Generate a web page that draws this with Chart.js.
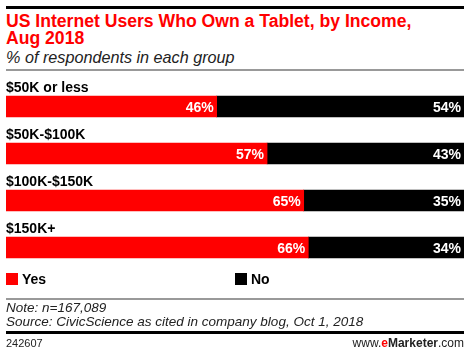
<!DOCTYPE html>
<html>
<head>
<meta charset="utf-8">
<script src="https://cdn.jsdelivr.net/npm/chart.js@4"></script>
<style>
  body { margin: 0; width: 470px; height: 354px; background: #fff; position: relative; font-family: "Liberation Sans", Arial, sans-serif; overflow: hidden; }
  .abs { position: absolute; }
  .rule { position: absolute; left: 6px; width: 458px; }
  #title { left: 6px; top: 13px; color: #f00; font-weight: bold; font-size: 17.6px; line-height: 16.5px; }
  #sub { left: 6px; top: 48px; font-style: italic; font-size: 16.2px; color: #222; }
  .sw { position: absolute; width: 12px; height: 12px; top: 273px; }
  .lg { position: absolute; top: 271px; font-weight: bold; font-size: 14px; }
  #note { left: 6px; top: 301px; font-style: italic; font-size: 13.5px; line-height: 13.5px; color: #222; }
  #foot1 { left: 6px; top: 337px; font-size: 11px; color: #222; }
  #foot2 { right: 6px; top: 336px; font-size: 12px; color: #222; }
  #wrap { position: absolute; left: 6px; top: 75px; width: 458px; height: 200px; }
</style>
</head>
<body>
<div class="rule" style="top:6px;height:3px;background:#000"></div>
<div id="title" class="abs">US Internet Users Who Own a Tablet, by Income,<br>Aug 2018</div>
<div id="sub" class="abs">% of respondents in each group</div>
<div class="rule" style="top:69px;height:2px;background:#999"></div>

<div id="wrap"><canvas id="c"></canvas></div>

<div class="sw" style="left:6px;background:#f00"></div>
<div class="lg" style="left:22px">Yes</div>
<div class="sw" style="left:235px;background:#000"></div>
<div class="lg" style="left:251px">No</div>

<div class="rule" style="top:298px;height:2px;background:#999"></div>
<div id="note" class="abs">Note: n=167,089<br>Source: CivicScience as cited in company blog, Oct 1, 2018</div>
<div class="rule" style="top:331px;height:3px;background:#000"></div>
<div id="foot1" class="abs">242607</div>
<div id="foot2" class="abs">www.<b style="color:#f00">e</b><b>Marketer</b>.com</div>

<script>
// data
const groups = ['$50K or less', '$50K-$100K', '$100K-$150K', '$150K+'];
const yesVals = [46, 57, 65, 66];
const noVals = [54, 43, 35, 34];

// category labels above bars + values inside bar ends
const labelPlugin = {
    id: 'labels',
    afterDatasetsDraw(chart) {
        const ctx = chart.ctx;
        ctx.save();
        ctx.font = 'bold 14px "Liberation Sans", Arial, sans-serif';
        ctx.textBaseline = 'alphabetic';
        const yesMeta = chart.getDatasetMeta(0);
        yesMeta.data.forEach((bar, i) => {
            ctx.fillStyle = '#000';
            ctx.textAlign = 'left';
            ctx.fillText(groups[i], chart.chartArea.left, bar.y - bar.height / 2 - 4);
        });
        ctx.fillStyle = '#fff';
        ctx.textAlign = 'right';
        chart.data.datasets.forEach((ds, d) => {
            chart.getDatasetMeta(d).data.forEach((bar, i) => {
                ctx.fillText(ds.data[i] + '%', bar.x - 3, bar.y + 5);
            });
        });
        ctx.restore();
    }
};

new Chart(document.getElementById('c'), {
    type: 'bar',
    data: {
        labels: groups,
        datasets: [
            { label: 'Yes', data: yesVals, backgroundColor: '#ff0000', barThickness: 21 },
            { label: 'No', data: noVals, backgroundColor: '#000000', barThickness: 21 }
        ]
    },
    options: {
        indexAxis: 'y',
        responsive: true,
        maintainAspectRatio: false,
        animation: false,
        layout: { padding: { top: 8, bottom: 4 } },
        plugins: { legend: { display: false }, tooltip: { enabled: false } },
        scales: {
            x: { stacked: true, min: 0, max: 100, display: false },
            y: { stacked: true, display: false }
        }
    },
    plugins: [labelPlugin]
});
</script>
</body>
</html>
